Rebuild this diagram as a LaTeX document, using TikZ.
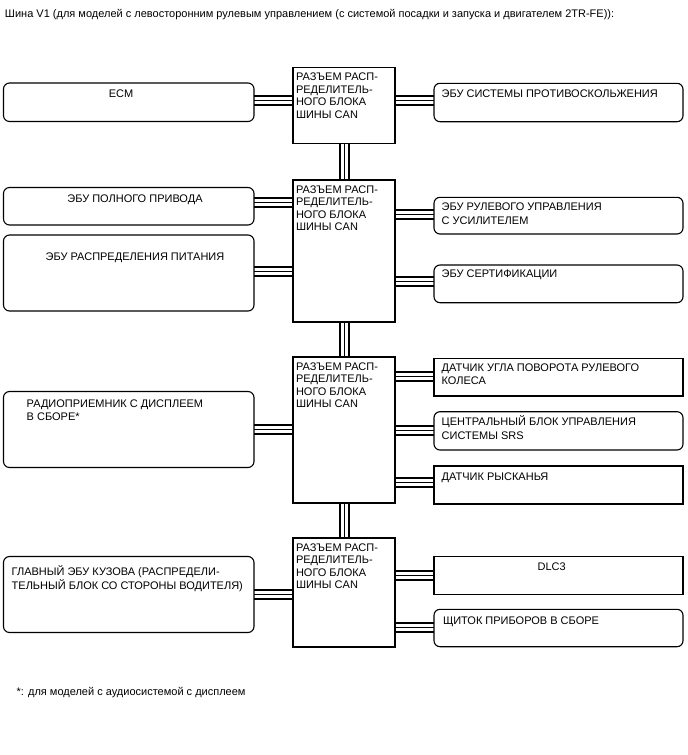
\documentclass[tikz,border=0pt]{standalone}
\usepackage{fontspec}
\setmainfont{Liberation Sans}
\pgfdeclarelayer{bg}
\pgfsetlayers{bg,main}
\begin{document}
\begin{tikzpicture}[x=1pt,y=-1pt,
  rbox/.style={draw, line width=1.1pt, rounded corners=6pt, inner sep=0pt, outer sep=0pt, anchor=north west},
  sbox/.style={draw, line width=1.1pt, inner sep=0pt, outer sep=0pt, anchor=north west},
  txt/.style={inner sep=0pt, outer sep=0pt, anchor=base west, font=\fontsize{11}{13}\selectfont},
  ctxt/.style={txt, anchor=base},
  bus/.style={draw=white, double=black, double distance=1pt, line width=3pt, line cap=butt,
              preaction={draw=black, line width=11pt, line cap=butt}}]
\useasboundingbox (0,0) rectangle (688,755);

% title
\node[txt] (title) at (5,17.3) {Шина V1 (для моделей с левосторонним рулевым управлением (с системой посадки и запуска и двигателем 2TR-FE)):};

% hubs
\node[sbox, minimum width=102, minimum height=76.2] (h1) at (293,67.3) {};
\node[sbox, minimum width=102, minimum height=142] (h2) at (293,180) {};
\node[sbox, minimum width=102, minimum height=146] (h3) at (293,357) {};
\node[sbox, minimum width=102, minimum height=109] (h4) at (293,538) {};
\foreach \h/\y in {h1/80.7, h2/193.4, h3/370.4, h4/551.4} {
  \foreach [count=\i] \l in {РАЗЪЕМ РАСП-, РЕДЕЛИТЕЛЬ-, НОГО БЛОКА, ШИНЫ CAN}
    \node[txt] (\h t\i) at (296,{\y+(\i-1)*12.5}) {\l};
}

% left boxes
\node[rbox, minimum width=250.5, minimum height=38.5] (ecm) at (3.5,83) {};
\node[rbox, minimum width=250.5, minimum height=37.5] (awd) at (3.5,187.5) {};
\node[rbox, minimum width=250.5, minimum height=76] (pwr) at (3.5,235) {};
\node[rbox, minimum width=250.5, minimum height=76] (radio) at (3.5,391.5) {};
\node[rbox, minimum width=250.5, minimum height=76] (body) at (3.5,556.5) {};

\node[ctxt] (ecmT) at (121,97.3) {ECM};
\node[ctxt] (awdT) at (135,202.3) {ЭБУ ПОЛНОГО ПРИВОДА};
\node[ctxt] (pwrT) at (135,260) {ЭБУ РАСПРЕДЕЛЕНИЯ ПИТАНИЯ};
\node[txt] (radioT1) at (26.7,407.3) {РАДИОПРИЕМНИК С ДИСПЛЕЕМ};
\node[txt] (radioT2) at (26.7,420.3) {В СБОРЕ*};
\node[txt] (bodyT1) at (11.7,575.7) {ГЛАВНЫЙ ЭБУ КУЗОВА (РАСПРЕДЕЛИ-};
\node[txt] (bodyT2) at (11.7,589) {ТЕЛЬНЫЙ БЛОК СО СТОРОНЫ ВОДИТЕЛЯ)};

% right boxes
\node[rbox, minimum width=249, minimum height=38.4] (skid) at (434,83.3) {};
\node[rbox, minimum width=249, minimum height=36.7] (eps) at (434,197.3) {};
\node[rbox, minimum width=249, minimum height=37.7] (cert) at (434,265) {};
\node[sbox, minimum width=249, minimum height=37.7] (angle) at (434,358.3) {};
\node[rbox, minimum width=249, minimum height=38.3] (srs) at (434,411.7) {};
\node[sbox, minimum width=249, minimum height=38] (yaw) at (434,466) {};
\node[sbox, minimum width=249, minimum height=37.6] (dlc) at (434,556.7) {};
\node[rbox, minimum width=249, minimum height=37.4] (meter) at (434,609.3) {};

\node[txt] (skidT) at (441.7,97.3) {ЭБУ СИСТЕМЫ ПРОТИВОСКОЛЬЖЕНИЯ};
\node[txt] (epsT1) at (441.7,210.7) {ЭБУ РУЛЕВОГО УПРАВЛЕНИЯ};
\node[txt] (epsT2) at (441.7,224) {С УСИЛИТЕЛЕМ};
\node[txt] (certT) at (441.7,277) {ЭБУ СЕРТИФИКАЦИИ};
\node[txt] (angleT1) at (441.7,371.3) {ДАТЧИК УГЛА ПОВОРОТА РУЛЕВОГО};
\node[txt] (angleT2) at (441.7,384.3) {КОЛЕСА};
\node[txt] (srsT1) at (441.7,425.7) {ЦЕНТРАЛЬНЫЙ БЛОК УПРАВЛЕНИЯ};
\node[txt] (srsT2) at (441.7,439) {СИСТЕМЫ SRS};
\node[txt] (yawT) at (441.7,480.7) {ДАТЧИК РЫСКАНЬЯ};
\node[ctxt] (dlcT) at (551.7,570.7) {DLC3};
\node[txt] (meterT) at (443,624) {ЩИТОК ПРИБОРОВ В СБОРЕ};

% footnote
\node[txt] (note) at (16.7,695.7) {*: для моделей с аудиосистемой с дисплеем};

% connectors
\begin{pgfonlayer}{bg}
\draw[bus] (h1.south) -- (h2.north);
\draw[bus] (h2.south) -- (h3.north);
\draw[bus] (h3.south) -- (h4.north);
\draw[bus] ([yshift=2pt]ecm.east) -- ([yshift=2pt]ecm.east -| h1.west);
\draw[bus] ([yshift=2.5pt]skid.west) -- ([yshift=2.5pt]skid.west -| h1.east);
\draw[bus] ([yshift=4pt]awd.east) -- ([yshift=4pt]awd.east -| h2.west);
\draw[bus] ([yshift=2pt]pwr.east) -- ([yshift=2pt]pwr.east -| h2.west);
\draw[bus] ([yshift=1.5pt]eps.west) -- ([yshift=1.5pt]eps.west -| h2.east);
\draw[bus] ([yshift=2pt]cert.west) -- ([yshift=2pt]cert.west -| h2.east);
\draw[bus] (radio.east) -- (radio.east -| h3.west);
\draw[bus] ([yshift=1pt]angle.west) -- ([yshift=1pt]angle.west -| h3.east);
\draw[bus] (srs.west) -- (srs.west -| h3.east);
\draw[bus] ([yshift=3pt]yaw.west) -- ([yshift=3pt]yaw.west -| h3.east);
\draw[bus] (body.east) -- (body.east -| h4.west);
\draw[bus] (dlc.west) -- (dlc.west -| h4.east);
\draw[bus] ([yshift=1pt]meter.west) -- ([yshift=1pt]meter.west -| h4.east);
\end{pgfonlayer}
\end{tikzpicture}
\end{document}
